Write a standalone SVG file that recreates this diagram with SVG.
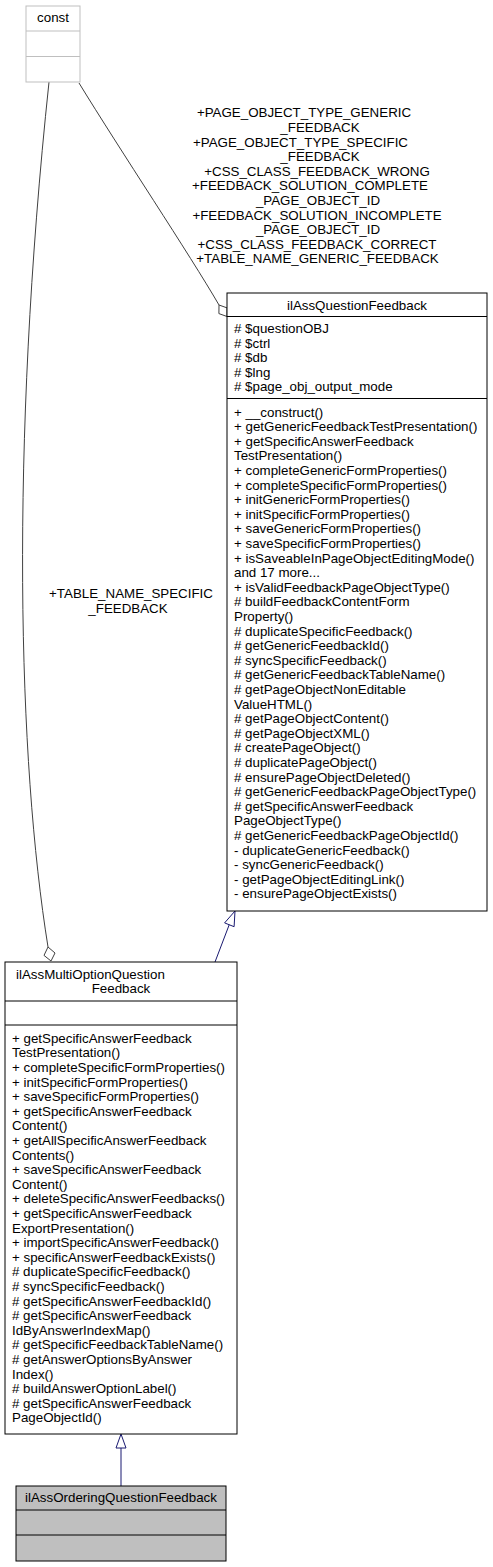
<svg xmlns="http://www.w3.org/2000/svg" width="493" height="1567" viewBox="0 0 493 1567">
<style>
text{font-family:"Liberation Sans",Arial,Helvetica,sans-serif;font-size:13.33px;fill:#000}
.c{text-anchor:middle}
.box{fill:#fff;stroke:#000;stroke-width:1}
.gbox{fill:#fff;stroke:#bfbfbf;stroke-width:1}
.agg{fill:none;stroke:#404040;stroke-width:1}
.inh{fill:none;stroke:#191970;stroke-width:1}
</style>
<rect width="493" height="1567" fill="#fff"/>
<g id="connectors">
<path class="agg" d="M49,82 C10,450 18,760 48,947"/>
<polygon class="agg" fill="#fff" points="48,947 55,953 51,961 44,955.4"/>
<path class="agg" d="M79,83 C120,150 190,255 219,305"/>
<polygon class="agg" fill="#fff" points="219,305 227.1,307.9 227,316.5 218.9,313.6"/>
<path class="inh" d="M215,962 L229.2,924.8"/>
<polygon class="inh" fill="#fff" points="235,911 234.1,926.7 224.6,922.9"/>
<path class="inh" d="M121,1486 L121,1448"/>
<polygon class="inh" fill="#fff" points="121,1434 126,1448 116,1448"/>
<g id="labels">
<text class="c" x="304" y="117.4">+PAGE_OBJECT_TYPE_GENERIC</text>
<text class="c" x="320" y="132">_FEEDBACK</text>
<text class="c" x="300.5" y="146.6">+PAGE_OBJECT_TYPE_SPECIFIC</text>
<text class="c" x="320" y="161.2">_FEEDBACK</text>
<text class="c" x="317" y="175.8">+CSS_CLASS_FEEDBACK_WRONG</text>
<text class="c" x="310" y="190.4">+FEEDBACK_SOLUTION_COMPLETE</text>
<text class="c" x="318" y="205">_PAGE_OBJECT_ID</text>
<text class="c" x="317" y="219.6">+FEEDBACK_SOLUTION_INCOMPLETE</text>
<text class="c" x="318" y="234.2">_PAGE_OBJECT_ID</text>
<text class="c" x="317" y="248.8">+CSS_CLASS_FEEDBACK_CORRECT</text>
<text class="c" x="317.5" y="263.4">+TABLE_NAME_GENERIC_FEEDBACK</text>
<text class="c" x="131" y="598">+TABLE_NAME_SPECIFIC</text>
<text class="c" x="128" y="612.6">_FEEDBACK</text>
</g>
</g>
<g id="const">
<rect class="gbox" x="26" y="6" width="54" height="76"/>
<line class="gbox" x1="26" y1="31" x2="80" y2="31"/>
<line class="gbox" x1="26" y1="56.5" x2="80" y2="56.5"/>
<text class="c" x="53" y="22">const</text>
</g>
<g id="ilAssQuestionFeedback">
<rect class="box" x="227" y="293" width="260" height="618"/>
<line class="box" x1="227" y1="316.5" x2="487" y2="316.5"/>
<line class="box" x1="227" y1="398.5" x2="487" y2="398.5"/>
<text class="c" x="357" y="309.5">ilAssQuestionFeedback</text>
<text x="234" y="333"># $questionOBJ</text>
<text x="234" y="347.6"># $ctrl</text>
<text x="234" y="362.2"># $db</text>
<text x="234" y="376.8"># $lng</text>
<text x="234" y="391.4"># $page_obj_output_mode</text>
<text x="234" y="416.5">+ __construct()</text>
<text x="234" y="431.1">+ getGenericFeedbackTestPresentation()</text>
<text x="234" y="445.7">+ getSpecificAnswerFeedback</text>
<text x="234" y="460.3">TestPresentation()</text>
<text x="234" y="474.9">+ completeGenericFormProperties()</text>
<text x="234" y="489.5">+ completeSpecificFormProperties()</text>
<text x="234" y="504.1">+ initGenericFormProperties()</text>
<text x="234" y="518.7">+ initSpecificFormProperties()</text>
<text x="234" y="533.3">+ saveGenericFormProperties()</text>
<text x="234" y="547.9">+ saveSpecificFormProperties()</text>
<text x="234" y="562.5">+ isSaveableInPageObjectEditingMode()</text>
<text x="234" y="577.1">and 17 more...</text>
<text x="234" y="591.7">+ isValidFeedbackPageObjectType()</text>
<text x="234" y="606.3"># buildFeedbackContentForm</text>
<text x="234" y="620.9">Property()</text>
<text x="234" y="635.5"># duplicateSpecificFeedback()</text>
<text x="234" y="650.1"># getGenericFeedbackId()</text>
<text x="234" y="664.7"># syncSpecificFeedback()</text>
<text x="234" y="679.3"># getGenericFeedbackTableName()</text>
<text x="234" y="693.9"># getPageObjectNonEditable</text>
<text x="234" y="708.5">ValueHTML()</text>
<text x="234" y="723.1"># getPageObjectContent()</text>
<text x="234" y="737.7"># getPageObjectXML()</text>
<text x="234" y="752.3"># createPageObject()</text>
<text x="234" y="766.9"># duplicatePageObject()</text>
<text x="234" y="781.5"># ensurePageObjectDeleted()</text>
<text x="234" y="796.1"># getGenericFeedbackPageObjectType()</text>
<text x="234" y="810.7"># getSpecificAnswerFeedback</text>
<text x="234" y="825.3">PageObjectType()</text>
<text x="234" y="839.9"># getGenericFeedbackPageObjectId()</text>
<text x="234" y="854.5">- duplicateGenericFeedback()</text>
<text x="234" y="869.1">- syncGenericFeedback()</text>
<text x="234" y="883.7">- getPageObjectEditingLink()</text>
<text x="234" y="898.3">- ensurePageObjectExists()</text>
</g>
<g id="ilAssMultiOptionQuestionFeedback">
<rect class="box" x="5" y="962" width="232" height="472"/>
<line class="box" x1="5" y1="1001" x2="237" y2="1001"/>
<line class="box" x1="5" y1="1025" x2="237" y2="1025"/>
<text x="16" y="978.7">ilAssMultiOptionQuestion</text>
<text class="c" x="121" y="993.3">Feedback</text>
<text x="12" y="1042.7">+ getSpecificAnswerFeedback</text>
<text x="12" y="1057.3">TestPresentation()</text>
<text x="12" y="1071.9">+ completeSpecificFormProperties()</text>
<text x="12" y="1086.5">+ initSpecificFormProperties()</text>
<text x="12" y="1101.1">+ saveSpecificFormProperties()</text>
<text x="12" y="1115.7">+ getSpecificAnswerFeedback</text>
<text x="12" y="1130.3">Content()</text>
<text x="12" y="1144.9">+ getAllSpecificAnswerFeedback</text>
<text x="12" y="1159.5">Contents()</text>
<text x="12" y="1174.1">+ saveSpecificAnswerFeedback</text>
<text x="12" y="1188.7">Content()</text>
<text x="12" y="1203.3">+ deleteSpecificAnswerFeedbacks()</text>
<text x="12" y="1217.9">+ getSpecificAnswerFeedback</text>
<text x="12" y="1232.5">ExportPresentation()</text>
<text x="12" y="1247.1">+ importSpecificAnswerFeedback()</text>
<text x="12" y="1261.7">+ specificAnswerFeedbackExists()</text>
<text x="12" y="1276.3"># duplicateSpecificFeedback()</text>
<text x="12" y="1290.9"># syncSpecificFeedback()</text>
<text x="12" y="1305.5"># getSpecificAnswerFeedbackId()</text>
<text x="12" y="1320.1"># getSpecificAnswerFeedback</text>
<text x="12" y="1334.7">IdByAnswerIndexMap()</text>
<text x="12" y="1349.3"># getSpecificFeedbackTableName()</text>
<text x="12" y="1363.9"># getAnswerOptionsByAnswer</text>
<text x="12" y="1378.5">Index()</text>
<text x="12" y="1393.1"># buildAnswerOptionLabel()</text>
<text x="12" y="1407.7"># getSpecificAnswerFeedback</text>
<text x="12" y="1422.3">PageObjectId()</text>
</g>
<g id="ilAssOrderingQuestionFeedback">
<rect x="16" y="1486" width="210" height="75" fill="#bfbfbf" stroke="#000"/>
<line class="box" x1="16" y1="1510" x2="226" y2="1510"/>
<line class="box" x1="16" y1="1535" x2="226" y2="1535"/>
<text class="c" x="121" y="1502">ilAssOrderingQuestionFeedback</text>
</g>
</svg>
